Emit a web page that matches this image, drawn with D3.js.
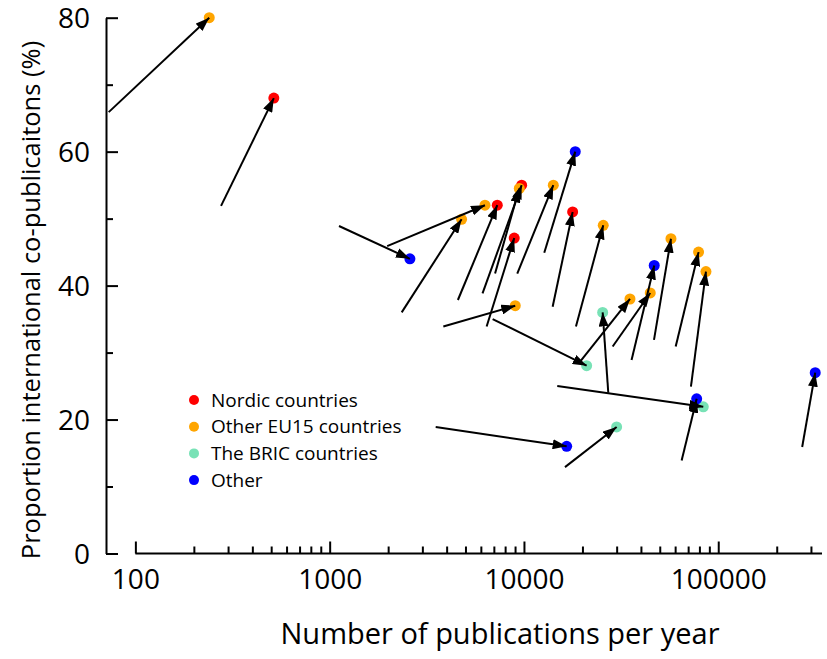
<!DOCTYPE html>
<html>
<head>
<meta charset="utf-8">
<script src="https://cdn.jsdelivr.net/npm/d3@7"></script>
<style>
  body { margin: 0; background: #fff; }
  text { font-family: "Open Sans", sans-serif; fill: #000; }
</style>
</head>
<body>
<div id="chart"></div>
<script>
// groups, in legend order
const groups = ["Nordic countries", "Other EU15 countries", "The BRIC countries", "Other"];
const groupColors = ["#ff0000", "#ffa500", "#78e2b6", "#0000ff"];

// one entry per country: group index, start of period (tail), end of period (dot)
const countryGroup = [0, 0, 0, 0, 0,
                      1, 1, 1, 1, 1, 1, 1, 1, 1, 1, 1, 1,
                      2, 2, 2, 2,
                      3, 3, 3, 3, 3, 3];
const pubsStart  = [276, 4571, 6120, 14050, 6427,
                    72.9, 1977, 2348, 7100, 9237, 3846, 18520, 46700, 60400, 72350, 28610, 19410,
                    6900, 27170, 14840, 16260,
                    1117, 12720, 35800, 64800, 270400, 3513];
const shareStart = [51.9, 37.85, 38.85, 36.85, 33.9,
                    65.9, 45.9, 36.0, 41.8, 41.8, 33.9, 33.9, 31.9, 30.9, 24.9, 30.9, 28.6,
                    35.0, 24.0, 25.0, 12.9,
                    48.9, 44.9, 28.9, 13.9, 15.9, 18.9];
const pubsEnd    = [516, 7290, 9730, 17810, 8913,
                    240, 6300, 4775, 9460, 14160, 9020, 25590, 57100, 79200, 86440, 44670, 35130,
                    21020, 25410, 83740, 29990,
                    2588, 18370, 46840, 77450, 315600, 16590];
const shareEnd   = [68.0, 52.0, 55.0, 51.0, 47.1,
                    80.0, 52.0, 49.9, 54.5, 55.0, 37.0, 49.0, 47.0, 45.0, 42.1, 38.9, 38.0,
                    28.05, 36.0, 21.9, 18.9,
                    44.0, 60.0, 43.0, 23.1, 27.0, 16.0];

const yTicks = [0, 20, 40, 60, 80];
const yMinor = [10, 30, 50, 70];
const xTicks = [100, 1000, 10000, 100000];

const width = 827, height = 659;

const svg = d3.select("#chart")
  .append("svg")
  .attr("width", width)
  .attr("height", height);

// scales
const x = d3.scaleLog()
  .domain([70.6, 342000])
  .range([106, 822]);
const y = d3.scaleLinear()
  .domain([0, 80])
  .range([553.5, 17.7]);

// minor x ticks 2..9 in each decade
const xMinor = [];
for (let e = 2; e <= 5; e++) {
  for (let m = 2; m <= 9; m++) {
    const v = m * Math.pow(10, e);
    if (v <= x.domain()[1]) xMinor.push(v);
  }
}

// y axis
const yAxis = svg.append("g")
  .attr("transform", `translate(${x.range()[0]},0)`)
  .call(d3.axisLeft(y).tickValues(yTicks).tickSizeInner(-12).tickSizeOuter(0).tickPadding(16));
yAxis.select(".domain").attr("stroke-width", 2);
yAxis.selectAll(".tick line").attr("stroke-width", 2);
yAxis.selectAll(".tick text").style("font-size", "28px").attr("dy", "0.36em");

svg.append("g")
  .attr("transform", `translate(${x.range()[0]},0)`)
  .call(d3.axisLeft(y).tickValues(yMinor).tickSizeInner(-7).tickSizeOuter(0).tickFormat(""))
  .call(g => g.select(".domain").remove())
  .selectAll(".tick line").attr("stroke-width", 2);

// x axis (line starts at 100)
const xAxis = svg.append("g")
  .attr("transform", `translate(0,${y(0)})`)
  .call(d3.axisBottom(x).tickValues(xTicks).tickFormat(d3.format("d")).tickSizeInner(-12).tickSizeOuter(0).tickPadding(16))
  .call(g => g.select(".domain").remove());
xAxis.selectAll(".tick line").attr("stroke-width", 2);
xAxis.selectAll(".tick text").style("font-size", "28px");

xAxis.append("line")
  .attr("x1", x(100))
  .attr("x2", x.range()[1])
  .attr("stroke", "#000")
  .attr("stroke-width", 2);

svg.append("g")
  .attr("transform", `translate(0,${y(0)})`)
  .call(d3.axisBottom(x).tickValues(xMinor).tickSizeInner(-7).tickSizeOuter(0).tickFormat(""))
  .call(g => g.select(".domain").remove())
  .selectAll(".tick line").attr("stroke-width", 2);

// axis titles
svg.append("text")
  .attr("x", 500)
  .attr("y", 644)
  .attr("text-anchor", "middle")
  .style("font-size", "29px")
  .text("Number of publications per year");

svg.append("text")
  .attr("transform", "translate(40,300) rotate(-90)")
  .attr("text-anchor", "middle")
  .style("font-size", "25.5px")
  .text("Proportion international co-publicaitons (%)");

// arrow head
svg.append("defs").append("marker")
  .attr("id", "head")
  .attr("viewBox", "0 0 14 10")
  .attr("refX", 14)
  .attr("refY", 5)
  .attr("markerWidth", 14)
  .attr("markerHeight", 10)
  .attr("markerUnits", "userSpaceOnUse")
  .attr("orient", "auto")
  .append("path")
  .attr("d", "M0,0 L14,5 L0,10 Z")
  .attr("fill", "#000");

const idx = d3.range(countryGroup.length);

// end-of-period dots
svg.append("g")
  .selectAll("circle")
  .data(idx)
  .enter()
  .append("circle")
  .attr("cx", i => x(pubsEnd[i]))
  .attr("cy", i => y(shareEnd[i]))
  .attr("r", 5.5)
  .attr("fill", i => groupColors[countryGroup[i]]);

// arrows from start to end
svg.append("g")
  .selectAll("line")
  .data(idx)
  .enter()
  .append("line")
  .attr("x1", i => x(pubsStart[i]))
  .attr("y1", i => y(shareStart[i]))
  .attr("x2", i => x(pubsEnd[i]))
  .attr("y2", i => y(shareEnd[i]))
  .attr("stroke", "#000")
  .attr("stroke-width", 2)
  .attr("marker-end", "url(#head)");

// legend
const legend = svg.append("g")
  .selectAll("g")
  .data(groups)
  .enter()
  .append("g")
  .attr("transform", (d, i) => `translate(194,${400 + i * 26.7})`);

legend.append("circle")
  .attr("r", 5)
  .attr("fill", (d, i) => groupColors[i]);

legend.append("text")
  .attr("x", 17)
  .attr("dy", "0.35em")
  .style("font-size", "19px")
  .text(d => d);
</script>
</body>
</html>
